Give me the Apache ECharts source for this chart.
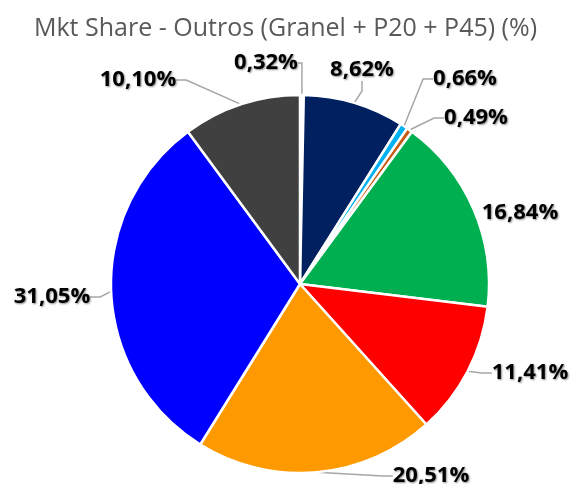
<!DOCTYPE html>
<html><head><meta charset="utf-8">
<script src="https://cdn.jsdelivr.net/npm/echarts@6/dist/echarts.min.js"></script>
<style>html,body{margin:0;padding:0;background:#fff}#c{width:571px;height:484px}</style>
</head><body><div id="c"></div>
<script>
const titleText = 'Mkt Share - Outros (Granel + P20 + P45) (%)';
const values = [0.32, 8.62, 0.66, 0.49, 16.84, 11.41, 20.51, 31.05, 10.10];
const colors = ['#FFFFFF', '#002060', '#00B0F0', '#C55A11', '#00B050', '#FF0000', '#FF9900', '#0000FF', '#404040'];
// label text centres (layout only)
const labelCenters = [[266, 63], [362, 70], [465, 79], [476, 118], [520, 213], [530, 373], [431, 476], [52, 297], [138, 80]];
const showLine = [true, true, true, true, false, true, true, true, true];

const fmt = v => v.toFixed(2).replace('.', ',') + '%';
const chart = echarts.init(document.getElementById('c'));
chart.setOption({
  animation: false,
  title: {
    text: titleText, left: 'center', top: 11,
    textStyle: { fontFamily: 'Open Sans', fontWeight: 'normal', fontSize: 25, color: '#595959' }
  },
  series: [{
    type: 'pie',
    center: [300, 284],
    radius: 189,
    startAngle: 90,
    clockwise: true,
    avoidLabelOverlap: false,
    itemStyle: { borderColor: '#fff', borderWidth: 2.5 },
    label: {
      show: true, position: 'outside',
      formatter: p => fmt(p.value),
      fontFamily: 'Open Sans', fontWeight: 'bold', fontSize: 22, color: '#000',
      textShadowColor: 'rgba(0,0,0,0.45)', textShadowBlur: 2, textShadowOffsetX: 1, textShadowOffsetY: 1
    },
    labelLine: { show: true, length: 10, length2: 10, lineStyle: { color: '#A6A6A6', width: 1.5 } },
    labelLayout: p => ({
      x: labelCenters[p.dataIndex][0], y: labelCenters[p.dataIndex][1],
      align: 'center', verticalAlign: 'middle'
    }),
    data: values.map((v, i) => ({
      value: v,
      itemStyle: { color: colors[i] },
      labelLine: { show: showLine[i] }
    }))
  }]
});
</script></body></html>
